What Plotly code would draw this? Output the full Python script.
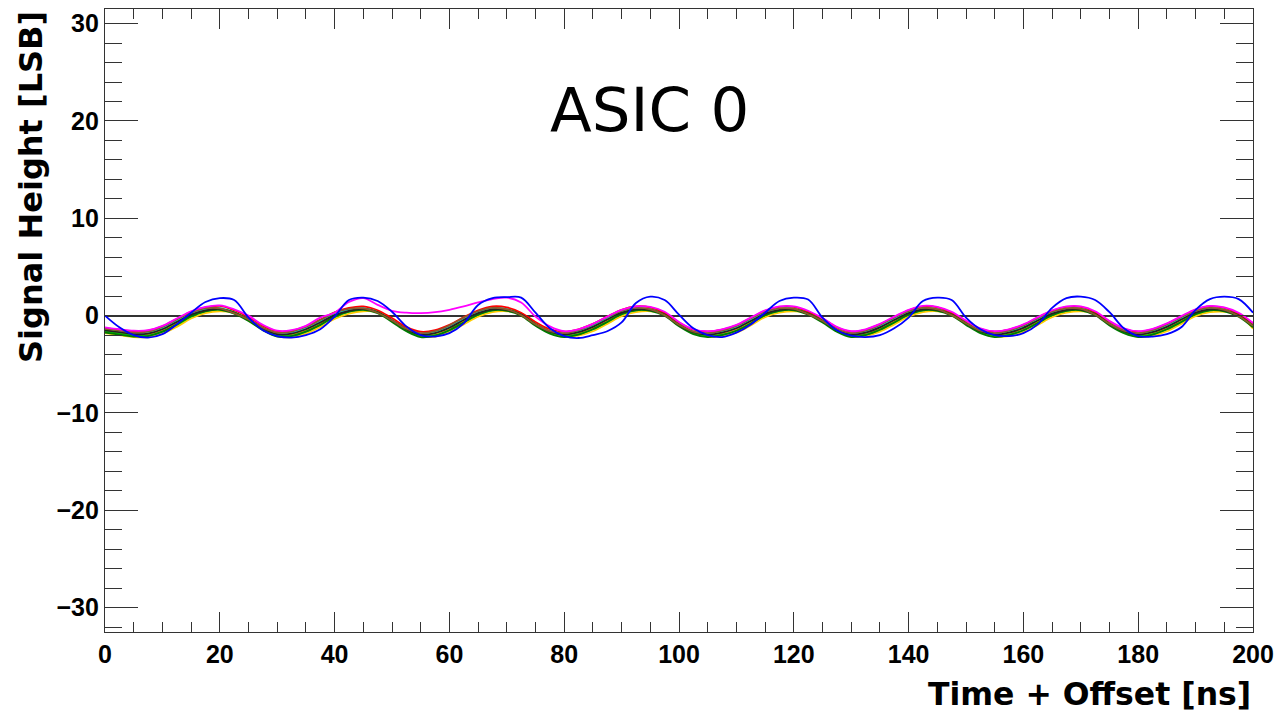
import plotly.graph_objects as go

# sample times [ns]
time_ns = [
    0, 2.5, 5, 7.5, 10, 12.5, 15, 17.5, 20, 22.5,
    25, 27.5, 30, 32.5, 35, 37.5, 40, 42.5, 45, 47.5,
    50, 52.5, 55, 57.5, 60, 62.5, 65, 67.5, 70, 72.5,
    75, 77.5, 80, 82.5, 85, 87.5, 90, 92.5, 95, 97.5,
    100, 102.5, 105, 107.5, 110, 112.5, 115, 117.5, 120, 122.5,
    125, 127.5, 130, 132.5, 135, 137.5, 140, 142.5, 145, 147.5,
    150, 152.5, 155, 157.5, 160, 162.5, 165, 167.5, 170, 172.5,
    175, 177.5, 180, 182.5, 185, 187.5, 190, 192.5, 195, 197.5,
    200,
]

# signal heights [LSB], one list per channel
ch_yellow = [
    -1.8, -2.0, -2.2, -2.2, -1.85, -1.15, -0.3, 0.25, 0.45, 0.3,
    -0.5, -1.4, -2.1, -2.2, -1.85, -1.15, -0.35, 0.2, 0.45, 0.35,
    -0.55, -1.5, -2.15, -2.15, -1.7, -0.9, -0.1, 0.35, 0.45, 0.2,
    -0.9, -1.75, -2.15, -2.05, -1.6, -0.85, -0.05, 0.35, 0.45, 0.2,
    -0.95, -1.8, -2.15, -2.1, -1.75, -1.0, -0.15, 0.3, 0.45, 0.3,
    -0.55, -1.55, -2.15, -2.1, -1.65, -0.9, -0.1, 0.35, 0.45, 0.2,
    -0.8, -1.7, -2.15, -2.1, -1.7, -0.95, -0.15, 0.3, 0.45, 0.25,
    -0.85, -1.7, -2.15, -2.05, -1.6, -0.85, -0.05, 0.35, 0.4, 0.1,
    -1.35,
]
ch_orange = [
    -1.6, -1.8, -1.95, -1.9, -1.5, -0.8, 0.0, 0.5, 0.65, 0.35,
    -0.4, -1.3, -1.9, -1.9, -1.5, -0.8, -0.05, 0.45, 0.65, 0.4,
    -0.45, -1.4, -1.95, -1.85, -1.35, -0.55, 0.2, 0.6, 0.6, 0.2,
    -0.85, -1.65, -1.95, -1.75, -1.25, -0.5, 0.25, 0.6, 0.6, 0.2,
    -0.9, -1.7, -1.95, -1.8, -1.4, -0.65, 0.15, 0.55, 0.65, 0.3,
    -0.5, -1.45, -1.95, -1.8, -1.3, -0.55, 0.2, 0.6, 0.6, 0.2,
    -0.75, -1.6, -1.95, -1.8, -1.35, -0.6, 0.15, 0.55, 0.65, 0.25,
    -0.8, -1.6, -1.95, -1.75, -1.25, -0.5, 0.25, 0.6, 0.55, 0.1,
    -1.15,
]
ch_cyan = [
    -1.45, -1.65, -1.8, -1.75, -1.3, -0.55, 0.2, 0.65, 0.8, 0.35,
    -0.35, -1.25, -1.8, -1.75, -1.3, -0.6, 0.15, 0.6, 0.8, 0.4,
    -0.45, -1.35, -1.85, -1.7, -1.15, -0.35, 0.35, 0.75, 0.7, 0.15,
    -0.85, -1.6, -1.85, -1.6, -1.05, -0.3, 0.4, 0.75, 0.7, 0.15,
    -0.9, -1.65, -1.85, -1.65, -1.2, -0.45, 0.3, 0.7, 0.75, 0.25,
    -0.5, -1.4, -1.85, -1.65, -1.1, -0.35, 0.35, 0.75, 0.7, 0.15,
    -0.75, -1.55, -1.85, -1.65, -1.15, -0.4, 0.3, 0.7, 0.75, 0.2,
    -0.8, -1.55, -1.85, -1.6, -1.05, -0.3, 0.4, 0.75, 0.65, 0.05,
    -1.0,
]
ch_green = [
    -1.65, -1.85, -2.05, -2.05, -1.65, -0.95, -0.1, 0.45, 0.65, 0.35,
    -0.4, -1.35, -2.0, -2.05, -1.65, -0.95, -0.15, 0.4, 0.65, 0.4,
    -0.5, -1.45, -2.05, -2.0, -1.5, -0.7, 0.1, 0.55, 0.6, 0.2,
    -0.85, -1.7, -2.05, -1.9, -1.4, -0.65, 0.15, 0.55, 0.6, 0.2,
    -0.9, -1.75, -2.05, -1.95, -1.55, -0.8, 0.05, 0.5, 0.65, 0.3,
    -0.5, -1.5, -2.05, -1.95, -1.45, -0.7, 0.1, 0.55, 0.6, 0.2,
    -0.75, -1.65, -2.05, -1.95, -1.5, -0.75, 0.05, 0.5, 0.65, 0.25,
    -0.8, -1.65, -2.05, -1.9, -1.4, -0.65, 0.15, 0.55, 0.55, 0.1,
    -1.0,
]
ch_darkgreen = [
    -1.75, -1.95, -2.15, -2.1, -1.65, -0.9, -0.05, 0.45, 0.6, 0.2,
    -0.55, -1.5, -2.15, -2.1, -1.65, -0.95, -0.1, 0.4, 0.6, 0.25,
    -0.65, -1.6, -2.2, -2.05, -1.5, -0.7, 0.1, 0.55, 0.5, 0.0,
    -1.05, -1.85, -2.2, -1.95, -1.4, -0.65, 0.15, 0.55, 0.5, 0.0,
    -1.1, -1.9, -2.2, -2.0, -1.55, -0.8, 0.05, 0.5, 0.55, 0.1,
    -0.7, -1.65, -2.2, -2.0, -1.45, -0.7, 0.1, 0.55, 0.5, 0.0,
    -0.95, -1.8, -2.2, -2.0, -1.5, -0.75, 0.05, 0.5, 0.55, 0.05,
    -1.0, -1.8, -2.2, -1.95, -1.4, -0.65, 0.15, 0.55, 0.45, -0.1,
    -1.2,
]
ch_red = [
    -1.25, -1.45, -1.6, -1.55, -1.1, -0.35, 0.4, 0.85, 1.0, 0.55,
    -0.15, -1.05, -1.6, -1.55, -1.1, -0.4, 0.35, 0.8, 0.95, 0.55,
    -0.25, -1.15, -1.65, -1.5, -0.95, -0.15, 0.55, 0.95, 0.85, 0.3,
    -0.65, -1.4, -1.65, -1.4, -0.85, -0.1, 0.6, 0.95, 0.85, 0.3,
    -0.7, -1.45, -1.65, -1.45, -1.0, -0.25, 0.5, 0.9, 0.9, 0.4,
    -0.3, -1.2, -1.65, -1.45, -0.9, -0.15, 0.55, 0.95, 0.85, 0.3,
    -0.55, -1.35, -1.65, -1.45, -0.95, -0.2, 0.5, 0.9, 0.9, 0.35,
    -0.6, -1.35, -1.65, -1.4, -0.85, -0.1, 0.6, 0.95, 0.8, 0.2,
    -0.8,
]
ch_black = [
    -1.5, -1.7, -1.9, -1.85, -1.4, -0.65, 0.1, 0.55, 0.7, 0.3,
    -0.4, -1.3, -1.9, -1.85, -1.4, -0.7, 0.05, 0.5, 0.7, 0.35,
    -0.5, -1.4, -1.95, -1.8, -1.25, -0.45, 0.25, 0.65, 0.6, 0.1,
    -0.9, -1.65, -1.95, -1.7, -1.15, -0.4, 0.3, 0.65, 0.6, 0.1,
    -0.95, -1.7, -1.95, -1.75, -1.3, -0.55, 0.2, 0.6, 0.65, 0.2,
    -0.55, -1.45, -1.95, -1.75, -1.2, -0.45, 0.25, 0.65, 0.6, 0.1,
    -0.8, -1.6, -1.95, -1.75, -1.25, -0.5, 0.2, 0.6, 0.65, 0.15,
    -0.85, -1.6, -1.95, -1.7, -1.15, -0.4, 0.3, 0.65, 0.55, 0.0,
    -1.05,
]
ch_brown = [
    -1.35, -1.55, -1.75, -1.65, -1.15, -0.4, 0.3, 0.75, 0.75, 0.25,
    -0.4, -1.25, -1.75, -1.65, -1.15, -0.45, 0.3, 0.7, 0.75, 0.3,
    -0.5, -1.35, -1.8, -1.6, -1.0, -0.2, 0.45, 0.8, 0.65, 0.05,
    -0.9, -1.6, -1.8, -1.5, -0.9, -0.15, 0.5, 0.8, 0.65, 0.05,
    -0.95, -1.65, -1.8, -1.55, -1.05, -0.3, 0.4, 0.75, 0.7, 0.15,
    -0.55, -1.4, -1.8, -1.55, -0.95, -0.2, 0.45, 0.8, 0.65, 0.05,
    -0.8, -1.55, -1.8, -1.55, -1.0, -0.25, 0.4, 0.75, 0.7, 0.1,
    -0.85, -1.55, -1.8, -1.5, -0.9, -0.15, 0.5, 0.8, 0.6, -0.05,
    -1.05,
]
ch_magenta = [
    -1.2, -1.4, -1.55, -1.5, -1.05, -0.3, 0.45, 0.9, 1.05, 0.65,
    0.0, -0.95, -1.55, -1.5, -1.05, -0.2, 0.3, 1.4, 1.8, 1.1,
    0.5, 0.3, 0.25, 0.35, 0.6, 0.95, 1.35, 1.7, 1.85, 1.35,
    -0.1, -1.1, -1.6, -1.4, -0.85, -0.1, 0.6, 0.95, 0.9, 0.4,
    -0.65, -1.4, -1.6, -1.4, -0.95, -0.2, 0.55, 0.95, 0.95, 0.5,
    -0.25, -1.15, -1.6, -1.4, -0.85, -0.1, 0.6, 1.0, 0.9, 0.4,
    -0.5, -1.3, -1.6, -1.4, -0.9, -0.15, 0.55, 0.95, 0.95, 0.45,
    -0.55, -1.3, -1.6, -1.35, -0.8, -0.05, 0.65, 1.0, 0.85, 0.3,
    -0.75,
]
ch_blue = [
    0.0, -1.2, -2.0, -2.25, -1.9, -0.9, 0.3, 1.4, 1.8, 1.6,
    -0.2, -1.5, -2.1, -2.25, -2.0, -1.4, -0.1, 1.6, 1.85, 1.5,
    0.4, -1.1, -2.0, -2.15, -1.8, -0.8, 1.1, 1.8, 1.9, 1.85,
    0.3, -1.3, -2.1, -2.3, -2.0, -1.6, -0.7, 1.3, 1.95, 1.6,
    0.1, -1.3, -2.0, -2.2, -1.75, -0.9, 0.3, 1.5, 1.85, 1.65,
    -0.2, -1.5, -2.05, -2.2, -2.0, -1.3, -0.2, 1.5, 1.85, 1.6,
    -0.2, -1.4, -2.0, -2.1, -1.8, -0.9, 0.8, 1.8, 1.95, 1.6,
    0.35, -1.3, -2.1, -2.15, -1.9, -1.2, 0.6, 1.7, 1.95, 1.7,
    0.3,
]

channels = [
    (ch_yellow, "#ffcc00"),
    (ch_orange, "#ff9900"),
    (ch_cyan, "#00e5e5"),
    (ch_green, "#00cc00"),
    (ch_darkgreen, "#007a00"),
    (ch_red, "#ff0000"),
    (ch_black, "#222222"),
    (ch_brown, "#8b5a2b"),
    (ch_magenta, "#ff00ff"),
    (ch_blue, "#0000ff"),
]

fig = go.Figure()

for values, color in channels:
    fig.add_trace(
        go.Scatter(
            x=time_ns,
            y=values,
            mode="lines",
            line=dict(color=color, width=1.8, shape="spline"),
            hoverinfo="skip",
        )
    )

tick_font = dict(family="Liberation Sans, Arial, sans-serif", size=25, color="black", weight="bold")
frame = "#333333"

fig.update_xaxes(
    range=[0, 200],
    tick0=0,
    dtick=20,
    ticks="inside",
    ticklen=20,
    tickwidth=1,
    tickcolor=frame,
    minor=dict(dtick=5, ticks="inside", ticklen=10, tickwidth=1, tickcolor=frame),
    showline=True,
    linecolor=frame,
    linewidth=1.2,
    mirror="ticks",
    showgrid=False,
    zeroline=False,
    automargin=False,
    tickfont=tick_font,
)
fig.update_yaxes(
    range=[-32.5, 31.5],
    tick0=0,
    dtick=10,
    ticks="inside",
    ticklen=33,
    tickwidth=1,
    tickcolor=frame,
    minor=dict(dtick=2, ticks="inside", ticklen=17, tickwidth=1, tickcolor=frame),
    showline=True,
    linecolor=frame,
    linewidth=1.2,
    mirror="ticks",
    showgrid=False,
    zeroline=True,
    zerolinecolor=frame,
    zerolinewidth=1.5,
    automargin=False,
    tickfont=tick_font,
)

title_font = dict(family="DejaVu Sans", size=31.5, color="black", weight="bold")

fig.update_layout(
    width=1277,
    height=718,
    margin=dict(l=105, r=24, t=9, b=86),
    plot_bgcolor="white",
    paper_bgcolor="white",
    showlegend=False,
    annotations=[
        dict(
            text="Time + Offset [ns]",
            xref="paper", yref="paper",
            x=1.0, y=-0.1,
            xanchor="right", yanchor="middle",
            showarrow=False,
            font=title_font,
        ),
        dict(
            text="Signal Height [LSB]",
            xref="paper", yref="paper",
            x=-0.0645, y=1.0,
            xanchor="center", yanchor="top",
            textangle=-90,
            showarrow=False,
            font=dict(title_font, size=32),
        ),
        dict(
            text="ASIC 0",
            xref="x", yref="y",
            x=94.8, y=21.2,
            xanchor="center", yanchor="middle",
            showarrow=False,
            font=dict(family="DejaVu Sans", size=61, color="black"),
        ),
    ],
)

# drop the default 8px body margin so the figure fills the window exactly
fig.write_html(
    "out.html",
    config={"displayModeBar": False},
    post_script="document.body.style.margin='0';document.body.style.overflow='hidden';",
)
